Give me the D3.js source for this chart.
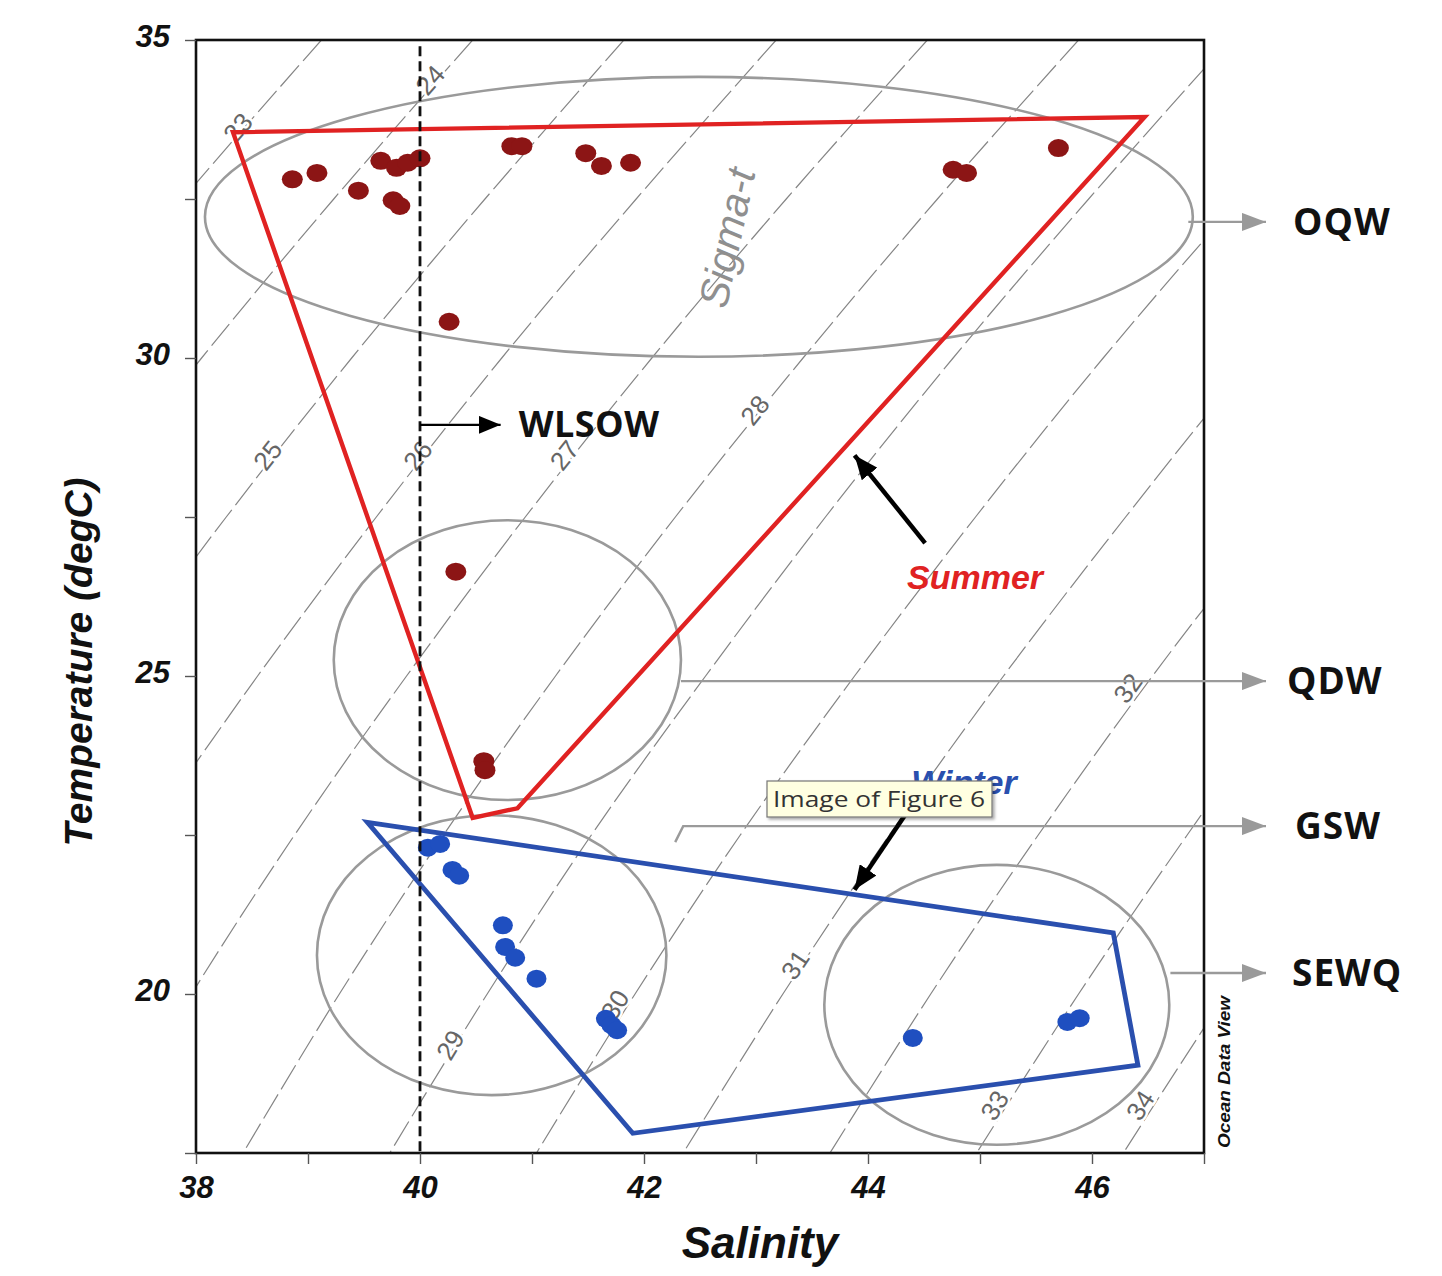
<!DOCTYPE html>
<html><head><meta charset="utf-8">
<script src="https://cdn.jsdelivr.net/npm/d3@7"></script>
<style>body{margin:0;background:#fff} svg{display:block}</style>
</head><body><svg id="c" width="1442" height="1276"></svg>
<script>
// ---------------- data ----------------
const xTicks = [38,39,40,41,42,43,44,45,46,47];
const xLabels = [38,40,42,44,46];
const yTicks = [17.5,20,22.5,25,27.5,30,32.5,35];
const yLabels = [20,25,30,35];

// sigma-t isopycnals: salinity read at each temperature level
const isoLevels = [23,24,25,26,27,28,29,30,31,32,33,34];
const isoTemps  = [35,32.5,30,27.5,25,22.5,20,17.5];
const isoSal = [
  [39.12,37.88,36.70,null,null,null,null,null],
  [40.47,39.23,38.05,36.93,null,null,null,null],
  [41.82,40.58,39.39,38.27,37.21,null,null,null],
  [43.18,41.93,40.73,39.61,38.55,37.55,null,null],
  [44.53,43.27,42.07,40.94,39.88,38.88,37.96,37.11],
  [45.88,44.62,43.42,42.28,41.21,40.21,39.28,38.42],
  [47.23,45.97,44.76,43.62,42.55,41.53,40.60,39.73],
  [48.58,47.32,46.10,44.96,43.88,42.86,41.92,41.04],
  [null,48.67,47.44,46.30,45.21,44.19,43.24,42.35],
  [null,null,48.78,47.64,46.54,45.52,44.56,43.66],
  [null,null,50.13,48.98,47.87,46.85,45.88,44.97],
  [null,null,null,50.31,49.21,48.18,47.20,46.28]
];
const isoLabelText = ["23","24","25","26","27","28","29","30","31","32","33","34"];
const isoLabelS = [38.375,40.09,38.64,39.98,41.29,42.99,40.27,41.74,43.35,46.32,45.13,46.43];
const isoLabelT = [33.62,34.37,28.47,28.47,28.47,29.18,19.20,19.83,20.46,24.81,18.25,18.25];

// summer stations
const summerS = [38.86,39.08,39.45,39.65,39.79,39.89,40.00,39.76,39.82,40.26,40.82,40.91,41.48,41.62,41.88,44.76,44.88,45.70,40.32,40.57,40.58];
const summerT = [32.81,32.91,32.63,33.10,32.99,33.07,33.14,32.48,32.39,30.57,33.33,33.33,33.22,33.02,33.07,32.96,32.91,33.30,26.64,23.66,23.52];
// winter stations
const winterS = [40.07,40.18,40.29,40.35,40.74,40.76,40.85,41.04,41.66,41.71,41.76,44.40,45.78,45.89];
const winterT = [22.30,22.36,21.95,21.86,21.08,20.74,20.57,20.24,19.61,19.51,19.43,19.31,19.56,19.62];

// season envelopes
const summerPolyS = [38.33,46.47,40.87,40.47];
const summerPolyT = [33.55,33.79,22.92,22.77];
const winterPolyS = [39.53,46.19,46.41,41.90];
const winterPolyT = [22.70,20.96,18.88,17.81];

// water masses
const massNames = ["OQW","QDW","GSW","SEWQ"];
const massCS = [42.49,40.78,40.64,45.15];
const massCT = [32.22,25.25,20.61,19.83];
const massRS = [4.41,1.55,1.56,1.54];
const massRT = [2.20,2.20,2.20,2.20];
const massArrowT = [32.14,24.92,22.64,20.33];
const massArrowS0 = [46.86,42.33,42.35,46.70];

const wlsowS = 40, wlsowTop = 34.9, wlsowArrowT = 28.95, wlsowArrowS = 40.72;

// ---------------- chart ----------------
const svg = d3.select("#c");
const L=196, R=1204, T=40, B=1153;
const x = d3.scaleLinear().domain([38,47]).range([L,R]);
const y = d3.scaleLinear().domain([17.5,35]).range([B,T]);

const defs = svg.append("defs");
defs.append("clipPath").attr("id","plot").append("rect")
  .attr("x",L).attr("y",T).attr("width",R-L).attr("height",B-T);
function marker(id,color,w,h){
  defs.append("marker").attr("id",id).attr("viewBox",`0 0 ${w} ${h}`)
    .attr("refX",w).attr("refY",h/2).attr("markerWidth",w).attr("markerHeight",h)
    .attr("markerUnits","userSpaceOnUse").attr("orient","auto")
    .append("path").attr("d",`M0,0L${w},${h/2}L0,${h}Z`).attr("fill",color);
}
marker("ag","#9a9a9a",24,18);
marker("ak","#000",22,18);
marker("ak2","#000",24,20);
const sh = defs.append("filter").attr("id","sh").attr("x","-10%").attr("y","-10%").attr("width","130%").attr("height","150%");
sh.append("feDropShadow").attr("dx",2).attr("dy",2).attr("stdDeviation",1.5).attr("flood-color","#000").attr("flood-opacity",0.35);

// isopycnals
const gIso = svg.append("g").attr("clip-path","url(#plot)");
const isoLine = d3.line().defined(d=>d[0]!=null).x(d=>x(d[0])).y(d=>y(d[1])).curve(d3.curveCatmullRom);
isoLevels.forEach((lv,i)=>{
  const pts = isoTemps.map((t,j)=>[isoSal[i][j],t]);
  gIso.append("path").attr("d",isoLine(pts)).attr("fill","none")
    .attr("stroke","#858585").attr("stroke-width",1.2).attr("stroke-dasharray","28,6");
});
// isopycnal labels
isoLabelText.forEach((t,i)=>{
  const px=x(isoLabelS[i]), py=y(isoLabelT[i]);
  const row=isoSal[i];
  let k=0; while(k<isoTemps.length-2 && !(isoLabelT[i]<=isoTemps[k] && isoLabelT[i]>=isoTemps[k+1])) k++;
  let a0=row[k],a1=row[k+1]; if(a0==null||a1==null){a0=row[k+1];a1=row[k+2]; k=k+1;}
  const dx=x(a0)-x(a1), dy=y(isoTemps[k])-y(isoTemps[k+1]);
  const ang=Math.atan2(dy,dx)*180/Math.PI;
  gIso.append("text").attr("transform",`translate(${px},${py}) rotate(${ang})`)
    .attr("text-anchor","middle").attr("dy","0.35em")
    .attr("font-family","Liberation Sans, Arial, sans-serif").attr("font-size",26)
    .attr("fill","#666").attr("stroke","#fff").attr("stroke-width",5).attr("paint-order","stroke")
    .text(t);
});

// water mass ellipses
massNames.forEach((n,i)=>{
  svg.append("ellipse").attr("cx",x(massCS[i])).attr("cy",y(massCT[i]))
    .attr("rx",x(massCS[i]+massRS[i])-x(massCS[i])).attr("ry",y(massCT[i]-massRT[i])-y(massCT[i]))
    .attr("fill","none").attr("stroke","#9a9a9a").attr("stroke-width",2.6);
});

// Sigma-t label
svg.append("text").attr("transform",`translate(${x(42.74)},${y(31.89)}) rotate(-78)`)
  .attr("text-anchor","middle").attr("dy","0.35em")
  .attr("font-family","Liberation Sans, Arial, sans-serif").attr("font-style","italic")
  .attr("font-size",41).attr("fill","#8f8f8f").text("Sigma-t");

// season polygons
const poly = (S,Tt)=> S.map((s,i)=>[x(s),y(Tt[i])].join(",")).join(" ");
svg.append("polygon").attr("points",poly(summerPolyS,summerPolyT))
  .attr("fill","none").attr("stroke","#e02222").attr("stroke-width",4.4).attr("stroke-linejoin","miter");
svg.append("polygon").attr("points",poly(winterPolyS,winterPolyT))
  .attr("fill","none").attr("stroke","#2a4fae").attr("stroke-width",4.8).attr("stroke-linejoin","miter");

// stations
svg.append("g").selectAll("ellipse").data(summerS.map((s,i)=>[s,summerT[i]])).join("ellipse")
  .attr("cx",d=>x(d[0])).attr("cy",d=>y(d[1])).attr("rx",10.5).attr("ry",9).attr("fill","#8c1515");
svg.append("g").selectAll("ellipse").data(winterS.map((s,i)=>[s,winterT[i]])).join("ellipse")
  .attr("cx",d=>x(d[0])).attr("cy",d=>y(d[1])).attr("rx",10).attr("ry",9).attr("fill","#1f4fc0");

// WLSOW dashed line + arrow
svg.append("line").attr("x1",x(wlsowS)).attr("x2",x(wlsowS)).attr("y1",y(wlsowTop)).attr("y2",B)
  .attr("stroke","#111").attr("stroke-width",2.8).attr("stroke-dasharray","10,5");
svg.append("line").attr("x1",x(wlsowS)).attr("x2",x(wlsowArrowS)).attr("y1",y(wlsowArrowT)).attr("y2",y(wlsowArrowT))
  .attr("stroke","#000").attr("stroke-width",2.2).attr("marker-end","url(#ak)");
svg.append("text").attr("x",x(wlsowArrowS)+18).attr("y",y(wlsowArrowT)).attr("dy","0.35em")
  .attr("font-family","Open Sans, sans-serif").attr("font-weight",700).attr("font-size",36)
  .attr("letter-spacing",0.5).attr("fill","#111").text("WLSOW");

// frame
svg.append("rect").attr("x",L).attr("y",T).attr("width",R-L).attr("height",B-T)
  .attr("fill","none").attr("stroke","#111").attr("stroke-width",2.6);

// axes
const ax = svg.append("g").attr("transform",`translate(0,${B})`)
  .call(d3.axisBottom(x).tickValues(xTicks).tickSize(11).tickFormat(d=>xLabels.includes(d)?d:""));
const ay = svg.append("g").attr("transform",`translate(${L},0)`)
  .call(d3.axisLeft(y).tickValues(yTicks).tickSize(11).tickFormat(d=>yLabels.includes(d)?d:""));
[ax,ay].forEach(g=>{
  g.select(".domain").remove();
  g.selectAll(".tick line").attr("stroke","#555").attr("stroke-width",1.4);
  g.selectAll(".tick text").attr("font-family","Liberation Sans, Arial, sans-serif")
    .attr("font-weight",700).attr("font-style","italic").attr("font-size",31).attr("fill","#111");
});
ax.selectAll(".tick text").attr("dy","1.0em");
ay.selectAll(".tick text").attr("x",-26).attr("dy","0.2em");

svg.append("text").attr("x",760).attr("y",1258).attr("text-anchor","middle")
  .attr("font-family","Liberation Sans, Arial, sans-serif").attr("font-weight",700).attr("font-style","italic")
  .attr("font-size",44).attr("fill","#111").text("Salinity");
svg.append("text").attr("transform","translate(92,662) rotate(-90)").attr("text-anchor","middle")
  .attr("font-family","Liberation Sans, Arial, sans-serif").attr("font-weight",700).attr("font-style","italic")
  .attr("font-size",39).attr("fill","#111").text("Temperature (degC)");

// Ocean Data View credit
svg.append("text").attr("transform",`translate(1230,1148) rotate(-90)`)
  .attr("font-family","Liberation Sans, Arial, sans-serif").attr("font-weight",700).attr("font-style","italic")
  .attr("font-size",16).attr("textLength",152).attr("lengthAdjust","spacingAndGlyphs").attr("fill","#111").text("Ocean Data View");

// water mass arrows + labels
const labelX = [1293,1287,1295,1292];
massNames.forEach((n,i)=>{
  const yy=y(massArrowT[i]);
  let d = `M${x(massArrowS0[i])},${yy}L${1266},${yy}`;
  if(n==="GSW") d = `M${x(massArrowS0[i])-8},${yy+16}L${x(massArrowS0[i])},${yy}L1266,${yy}`;
  svg.append("path").attr("d",d).attr("fill","none")
    .attr("stroke","#9a9a9a").attr("stroke-width",2.4).attr("marker-end","url(#ag)");
  svg.append("text").attr("x",labelX[i]).attr("y",yy).attr("dy","0.36em")
    .attr("font-family","Open Sans, sans-serif").attr("font-weight",700).attr("font-size",37)
    .attr("letter-spacing",1).attr("fill","#111").text(n);
});

// Summer / Winter annotations
svg.append("line").attr("x1",x(44.51)).attr("y1",y(27.09)).attr("x2",x(43.88)).attr("y2",y(28.47))
  .attr("stroke","#000").attr("stroke-width",4.5).attr("marker-end","url(#ak2)");
svg.append("text").attr("x",975).attr("y",577).attr("dy","0.35em").attr("text-anchor","middle")
  .attr("font-family","Liberation Sans, Arial, sans-serif").attr("font-weight",700).attr("font-style","italic")
  .attr("font-size",34).attr("fill","#e02222").text("Summer");
svg.append("text").attr("x",964).attr("y",782).attr("dy","0.35em").attr("text-anchor","middle")
  .attr("font-family","Liberation Sans, Arial, sans-serif").attr("font-weight",700).attr("font-style","italic")
  .attr("font-size",34).attr("fill","#2a4fae").text("Winter");
svg.append("line").attr("x1",x(44.33)).attr("y1",y(22.81)).attr("x2",x(43.88)).attr("y2",y(21.64))
  .attr("stroke","#000").attr("stroke-width",4.5).attr("marker-end","url(#ak2)");

// tooltip
const tip = svg.append("g").attr("transform","translate(767,781)");
tip.append("rect").attr("width",225).attr("height",36).attr("fill","#ffffe1")
  .attr("stroke","#767676").attr("stroke-width",1.2).attr("filter","url(#sh)");
tip.append("text").attr("x",6).attr("y",26).attr("font-family","Open Sans, sans-serif")
  .attr("font-size",21).attr("fill","#333").attr("textLength",212).attr("lengthAdjust","spacingAndGlyphs")
  .text("Image of Figure 6");
</script></body></html>
